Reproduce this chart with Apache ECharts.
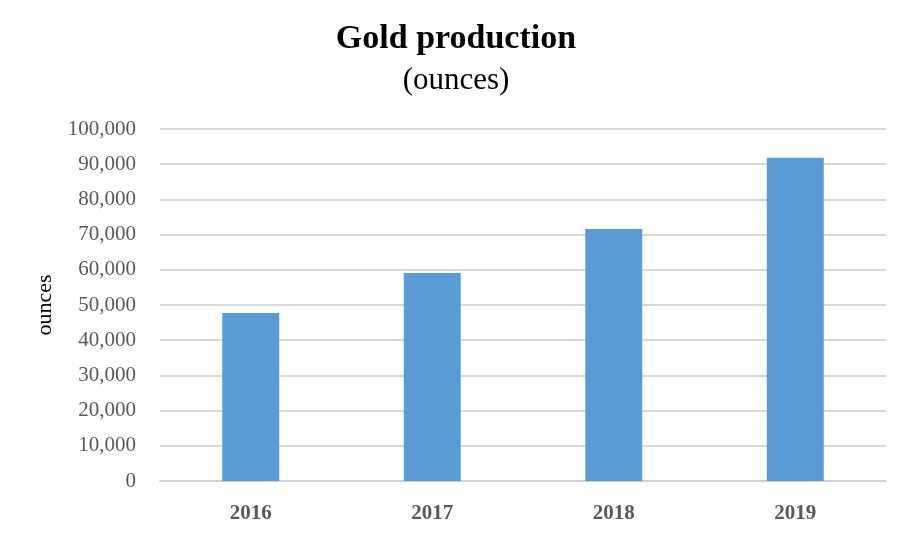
<!DOCTYPE html>
<html><head><meta charset="utf-8">
<script src="https://cdn.jsdelivr.net/npm/echarts@6/dist/echarts.min.js"></script>
<style>html,body{margin:0;padding:0;background:#fff}#c{width:912px;height:537px}</style>
</head><body><div id="c"></div>
<script>
const categories = ['2016', '2017', '2018', '2019'];
const production = [47700, 59100, 71600, 91800];
const yTicks = [0, 10000, 20000, 30000, 40000, 50000, 60000, 70000, 80000, 90000, 100000];

const serif = '"Liberation Serif", "DejaVu Serif", serif';
const chart = echarts.init(document.getElementById('c'));
chart.setOption({
  animation: false,
  backgroundColor: '#fff',
  title: [{
    text: 'Gold production',
    left: 'center',
    top: 17,
    textStyle: {fontFamily: serif, fontSize: 34, fontWeight: 'bold', color: '#000'}
  }, {
    text: '(ounces)',
    left: 'center',
    top: 60,
    textStyle: {fontFamily: serif, fontSize: 31, fontWeight: 'normal', color: '#000'}
  }],
  grid: {left: 160, right: 26, top: 129, bottom: 56},
  xAxis: {
    type: 'category',
    data: categories,
    axisTick: {show: false},
    axisLine: {lineStyle: {color: '#d0d0d0', width: 2}},
    axisLabel: {fontFamily: serif, fontSize: 21, fontWeight: 'bold', color: '#595959', margin: 22}
  },
  yAxis: {
    type: 'value',
    min: yTicks[0],
    max: yTicks[yTicks.length - 1],
    interval: yTicks[1] - yTicks[0],
    name: 'ounces',
    nameLocation: 'middle',
    nameRotate: 90,
    nameGap: 104,
    nameTextStyle: {fontFamily: serif, fontSize: 22, color: '#000'},
    axisLine: {show: false},
    axisTick: {show: false},
    splitLine: {lineStyle: {color: '#d9d9d9', width: 2}},
    axisLabel: {
      fontFamily: serif, fontSize: 21, color: '#595959', margin: 24,
      formatter: v => v.toLocaleString('en-US')
    }
  },
  series: [{
    type: 'bar',
    data: production,
    barWidth: 57,
    itemStyle: {color: '#5b9bd5'}
  }]
});
</script></body></html>
